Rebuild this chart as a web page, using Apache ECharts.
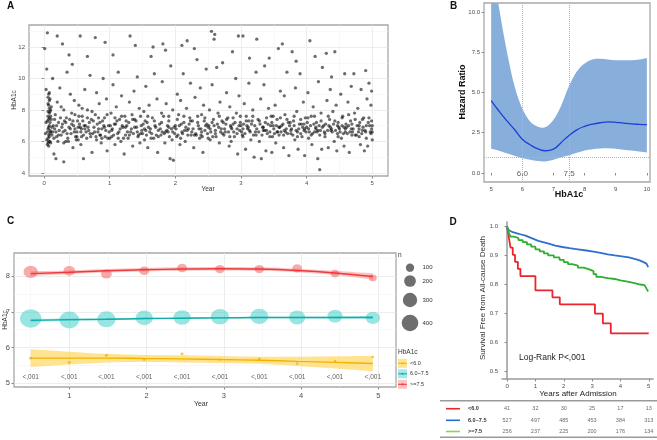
<!DOCTYPE html>
<html><head><meta charset="utf-8">
<script src="https://cdn.jsdelivr.net/npm/echarts@6/dist/echarts.min.js"></script>
<style>html,body{margin:0;padding:0;background:#fff}#c{width:657px;height:440px}</style>
</head><body><div id="c"></div>
<script>
// ---------- Panel A: HbA1c measurements over time ----------
const A_points = [
[0.02,6.5],[0.03,7.2],[0.04,6.1],[0.05,5.8],[0.06,6.8],[0.06,7.6],[0.07,8.3],[0.07,9.0],[0.08,6.3],[0.08,7.0],[0.09,7.9],[0.09,8.7],[0.1,6.6],[0.1,5.9],[0.11,7.4],[0.12,6.9],[0.13,10.0],[0.15,6.2],[0.17,7.7],[0.18,6.6],[0.2,8.5],[0.21,6.0],[0.22,7.2],[0.24,9.4],[0.01,11.9],[0.05,12.9],[0.04,10.6],[0.15,5.2],[0.18,4.9],[0.2,12.7],[0.03,9.3],[0.07,5.7],[0.12,6.4],[0.23,6.7],[0.1,8.0],
[0.26,6.4],[0.28,7.1],[0.3,5.9],[0.3,8.0],[0.32,6.7],[0.34,7.5],[0.35,10.4],[0.36,6.2],[0.38,6.9],[0.4,9.0],[0.41,6.5],[0.42,7.8],[0.44,5.6],[0.45,7.0],[0.46,8.6],[0.48,6.3],[0.3,4.7],[0.28,12.2],[0.38,11.5],[0.33,6.0],[0.47,6.8],[0.43,10.9],
[0.5,6.6],[0.51,7.3],[0.52,6.1],[0.53,8.3],[0.55,6.9],[0.56,5.8],[0.58,7.6],[0.6,6.4],[0.62,9.3],[0.63,7.0],[0.65,6.2],[0.66,8.0],[0.68,6.7],[0.7,10.2],[0.72,7.4],[0.73,5.3],[0.55,12.7],[0.6,4.9],[0.66,11.4],[0.74,6.5],[0.57,6.8],
[0.76,6.9],[0.78,7.7],[0.8,6.1],[0.8,9.1],[0.82,6.6],[0.84,8.4],[0.85,7.2],[0.87,5.9],[0.88,6.8],[0.9,10.0],[0.92,7.5],[0.93,6.3],[0.95,8.7],[0.96,5.4],[0.98,7.0],[0.78,12.6],[0.93,12.3],[0.86,6.4],[0.99,6.6],
[1.0,6.2],[1.02,7.8],[1.03,6.7],[1.05,9.6],[1.07,7.1],[1.08,5.8],[1.1,8.2],[1.12,6.5],[1.13,10.4],[1.15,7.4],[1.17,6.0],[1.18,8.9],[1.2,6.9],[1.22,5.2],[1.23,7.6],[1.05,11.5],[1.24,6.4],
[1.26,7.0],[1.28,6.2],[1.3,8.5],[1.31,12.7],[1.32,6.6],[1.34,7.7],[1.35,5.7],[1.37,9.2],[1.38,6.9],[1.4,7.3],[1.42,10.1],[1.43,6.3],[1.45,8.1],[1.46,5.9],[1.48,7.0],[1.39,12.1],[1.33,6.8],
[1.5,6.5],[1.52,7.9],[1.53,6.1],[1.55,9.5],[1.57,7.2],[1.58,5.6],[1.6,8.3],[1.62,6.8],[1.63,11.4],[1.65,7.5],[1.67,6.2],[1.68,10.3],[1.7,6.9],[1.72,8.7],[1.73,5.3],[1.66,12.0],[1.55,6.7],
[1.76,7.1],[1.78,6.4],[1.8,9.8],[1.81,12.2],[1.82,7.6],[1.84,5.9],[1.86,8.4],[1.87,6.7],[1.9,7.3],[1.92,4.9],[1.93,10.8],[1.95,6.1],[1.96,8.0],[1.98,6.9],[1.85,11.8],[1.97,4.8],[1.89,6.6],
[2.0,7.0],[2.02,6.3],[2.03,9.0],[2.05,7.7],[2.07,5.8],[2.08,8.6],[2.1,6.6],[2.12,10.3],[2.13,7.2],[2.15,6.0],[2.17,8.1],[2.18,12.4],[2.2,6.8],[2.22,7.5],[2.23,9.7],[2.1,12.1],[2.24,6.4],
[2.26,7.3],[2.28,5.6],[2.3,8.8],[2.31,6.5],[2.33,11.2],[2.35,7.0],[2.37,6.2],[2.38,9.4],[2.4,7.7],[2.42,5.3],[2.43,8.3],[2.45,6.7],[2.47,10.6],[2.48,7.1],[2.29,11.9],[2.39,6.4],
[2.5,6.9],[2.52,8.0],[2.53,6.1],[2.55,13.0],[2.56,9.6],[2.58,7.4],[2.6,12.8],[2.61,6.5],[2.63,10.7],[2.65,7.8],[2.67,5.9],[2.68,8.5],[2.7,6.8],[2.72,11.0],[2.73,7.2],[2.59,12.5],[2.57,6.3],
[2.76,6.6],[2.78,9.1],[2.8,7.5],[2.82,5.7],[2.83,8.2],[2.85,6.9],[2.87,11.7],[2.88,7.1],[2.9,6.3],[2.92,10.0],[2.93,7.8],[2.95,5.2],[2.97,8.9],[2.98,6.7],[2.96,12.7],[2.85,6.0],
[3.0,7.0],[3.02,6.4],[3.03,12.7],[3.05,8.4],[3.07,5.5],[3.08,7.6],[3.1,6.8],[3.12,9.7],[3.13,11.3],[3.15,6.1],[3.17,7.3],[3.18,8.0],[3.2,5.0],[3.22,6.6],[3.23,10.4],[3.24,12.5],[3.11,6.9],
[3.26,7.4],[3.28,6.0],[3.3,8.7],[3.31,4.9],[3.33,6.9],[3.35,9.6],[3.37,7.2],[3.38,5.4],[3.4,6.5],[3.42,8.1],[3.43,11.3],[3.45,7.0],[3.47,5.3],[3.48,6.3],[3.36,10.8],[3.46,7.6],
[3.5,6.8],[3.52,8.3],[3.53,5.9],[3.55,7.4],[3.57,11.9],[3.58,6.4],[3.6,9.2],[3.62,7.0],[3.63,12.2],[3.65,5.6],[3.67,7.7],[3.68,6.6],[3.7,10.4],[3.72,7.2],[3.73,5.1],[3.66,8.9],[3.58,6.9],
[3.76,6.5],[3.78,11.7],[3.8,7.3],[3.82,6.1],[3.83,9.4],[3.85,7.9],[3.87,5.5],[3.88,6.8],[3.9,10.3],[3.92,7.1],[3.93,6.3],[3.95,8.5],[3.97,5.1],[3.98,7.5],[3.84,11.1],[3.96,6.7],
[4.0,6.9],[4.02,9.1],[4.03,6.2],[4.05,12.4],[4.07,7.6],[4.08,5.8],[4.1,8.2],[4.12,6.6],[4.13,11.4],[4.15,7.2],[4.17,4.9],[4.18,9.8],[4.2,6.4],[4.2,4.2],[4.22,7.8],[4.23,5.5],[4.24,10.7],[4.14,6.9],
[4.26,7.0],[4.28,6.3],[4.3,11.6],[4.31,8.6],[4.33,5.6],[4.35,7.4],[4.37,6.7],[4.38,10.1],[4.4,7.9],[4.42,6.0],[4.43,11.7],[4.45,8.3],[4.47,6.5],[4.48,7.2],[4.36,9.3],[4.46,5.4],
[4.5,6.8],[4.52,9.0],[4.53,6.2],[4.55,7.6],[4.57,5.7],[4.58,10.3],[4.6,7.1],[4.62,6.5],[4.63,8.5],[4.65,5.3],[4.67,7.3],[4.68,9.5],[4.7,6.6],[4.72,10.3],[4.73,7.8],[4.61,6.9],
[4.76,6.4],[4.78,8.1],[4.8,7.0],[4.82,5.8],[4.83,9.3],[4.85,6.7],[4.87,7.5],[4.88,5.4],[4.9,10.5],[4.91,6.2],[4.92,8.7],[4.94,7.2],[4.95,9.7],[4.97,6.6],[4.98,8.3],[5.0,7.0],[5.0,6.1],[4.99,9.2],[4.93,5.7],
[0.06,6.2],[0.07,6.9],[0.08,7.5],[0.09,6.0],[0.05,6.6],[0.08,8.1],[0.06,8.8],[0.09,7.2],[0.14,7.0],[0.19,6.3],[0.25,7.5],[0.29,6.6],[0.33,7.2],[0.37,6.0],[0.4,6.8],[0.44,7.3],[0.49,6.1],[0.52,6.9],[0.54,7.1],[0.57,6.3],[0.61,7.0],[0.64,6.6],[0.69,7.2],[0.71,6.3],[0.77,6.6],[0.81,7.1],[0.85,6.4],[0.89,7.3],[0.94,6.7],[0.97,6.2],
[1.01,7.0],[1.06,6.4],[1.09,7.1],[1.14,6.6],[1.19,7.0],[1.21,6.2],[1.27,6.6],[1.29,7.2],[1.36,6.5],[1.41,6.9],[1.44,6.4],[1.49,6.7],[1.51,7.1],[1.56,6.4],[1.59,6.9],[1.64,6.5],[1.69,7.0],[1.71,6.4],[1.77,6.8],[1.79,7.2],[1.83,6.5],[1.88,7.0],[1.91,6.3],[1.94,6.8],[1.99,6.5],
[2.01,6.8],[2.04,6.4],[2.09,7.1],[2.11,6.5],[2.16,6.9],[2.19,6.4],[2.21,7.1],[2.27,6.8],[2.32,6.4],[2.34,7.2],[2.39,6.8],[2.41,6.3],[2.46,7.0],[2.49,6.5],[2.51,7.0],[2.54,6.6],[2.59,7.0],[2.62,6.3],[2.66,6.9],[2.69,6.6],[2.71,7.3],[2.74,6.4],[2.77,7.1],[2.81,6.6],[2.84,7.0],[2.89,6.6],[2.91,7.2],[2.94,6.5],[2.99,7.2],
[3.01,6.6],[3.04,7.1],[3.06,6.5],[3.09,7.0],[3.14,6.6],[3.16,7.1],[3.19,6.4],[3.21,7.0],[3.27,6.6],[3.29,7.1],[3.32,6.4],[3.34,6.9],[3.39,6.7],[3.41,7.1],[3.44,6.6],[3.49,7.0],[3.51,6.5],[3.54,7.0],[3.56,6.6],[3.61,6.6],[3.64,7.1],[3.69,6.8],[3.71,6.5],[3.74,7.0],[3.77,6.8],[3.79,6.4],[3.81,7.0],[3.86,6.6],[3.89,7.1],[3.91,6.5],[3.94,6.9],[3.99,6.6],
[4.01,7.2],[4.04,6.6],[4.06,7.0],[4.09,6.5],[4.11,7.1],[4.16,6.6],[4.19,7.0],[4.21,6.7],[4.27,6.6],[4.29,7.1],[4.32,6.7],[4.34,7.0],[4.39,6.6],[4.41,7.1],[4.44,6.7],[4.49,6.9],[4.51,6.6],[4.54,7.0],[4.56,6.5],[4.59,6.8],[4.64,7.0],[4.66,6.6],[4.69,7.1],[4.71,6.8],[4.74,6.4],[4.77,7.0],[4.79,6.6],[4.81,7.2],[4.84,6.5],[4.86,6.9],[4.89,6.7],[4.96,7.0],[4.99,6.8],[5.0,6.6],
[0.06,7.9],[0.07,6.4],[0.08,8.6],[0.09,6.7],[0.1,7.6],[0.16,6.8],[0.27,6.9],[0.39,7.4],[0.46,6.6],[0.59,7.3],[0.67,6.9],[0.75,7.3],[0.83,6.8],[0.91,7.0],[1.04,6.8],[1.11,7.3],[1.16,6.8],[1.25,7.3],[1.38,7.4],[1.47,6.5],[1.54,7.3],[1.61,6.6],[1.74,6.7],[1.8,6.6],[1.9,6.9],
[2.06,7.0],[2.14,6.7],[2.25,6.6],[2.36,6.8],[2.44,7.3],[2.53,6.8],[2.64,7.1],[2.75,6.8],[2.86,6.8],[2.97,7.0],[3.03,6.8],[3.12,7.3],[3.24,6.8],[3.36,6.7],[3.47,7.2],[3.59,6.9],[3.66,6.7],[3.75,7.2],[3.84,6.7],[3.96,7.1],[4.03,6.8],[4.14,6.8],[4.24,6.9],[4.36,6.9],[4.47,7.0],[4.57,6.9],[4.68,6.8],[4.8,6.8],[4.91,7.0],[4.98,6.5],
[0.05,7.3],[0.06,8.4],[0.07,6.0],[0.08,7.8],[0.09,6.5],[0.07,7.4],[0.08,9.1],[0.06,5.9],[0.11,8.2],[0.13,6.6],[0.16,7.4],[0.19,7.0],[0.22,6.4],[0.26,8.2],[0.31,7.3],[0.35,6.5],[0.42,7.1],[0.47,7.7],[0.5,6.3],[0.53,7.6],[0.56,6.6],[0.58,8.1],[0.62,6.8],[0.66,7.5],[0.7,6.5],[0.73,7.9],[0.79,6.3],[0.83,7.5],[0.88,6.2],[0.92,6.9],[0.96,7.7],
[1.03,6.3],[1.08,7.5],[1.13,6.2],[1.18,7.6],[1.24,6.9],[1.3,6.4],[1.35,7.4],[1.42,6.6],[1.47,7.6],[1.53,6.8],[1.58,7.6],[1.63,6.2],[1.68,7.3],[1.74,6.3],[1.79,7.8],[1.85,6.6],[1.9,7.6],[1.96,6.6],
[2.03,7.4],[2.08,6.2],[2.13,7.6],[2.18,6.7],[2.23,7.3],[2.29,6.4],[2.34,7.6],[2.4,6.6],[2.45,7.5],[2.5,6.2],[2.56,7.2],[2.61,6.7],[2.67,7.6],[2.72,6.5],[2.78,7.4],[2.83,6.3],[2.88,7.5],[2.94,6.8],[2.99,7.6],
[3.03,6.3],[3.08,7.3],[3.13,6.7],[3.18,7.6],[3.23,6.4],[3.28,7.3],[3.34,6.7],[3.39,7.5],[3.44,6.3],[3.49,7.6],[3.55,6.6],[3.6,7.5],[3.65,6.4],[3.7,7.4],[3.76,6.7],[3.81,7.6],[3.86,6.3],[3.91,7.4],[3.97,6.8],
[4.02,7.5],[4.07,6.4],[4.12,7.6],[4.17,6.7],[4.22,7.3],[4.28,6.5],[4.33,7.6],[4.38,6.8],[4.43,7.3],[4.48,6.3],[4.54,7.5],[4.59,6.6],[4.64,7.7],[4.69,6.4],[4.74,7.4],[4.8,6.3],[4.85,7.4],[4.9,6.6],[4.95,7.5],[4.99,7.3]
];
const A_xticks = [0,1,2,3,4,5];
const A_yticks = [4,6,8,10,12];

// ---------- Panel B: spline hazard ratio ----------
const B_x  = [5,5.25,5.5,5.75,6,6.25,6.5,6.75,7,7.25,7.5,7.75,8,8.25,8.5,8.75,9,9.25,9.5,9.75,10];
const B_hr = [4.5,3.85,3.25,2.7,2.1,1.75,1.5,1.38,1.48,1.9,2.33,2.68,2.9,3.03,3.12,3.17,3.15,3.1,3.05,3.02,3.0];
const B_lo = [1.5,1.38,1.22,1.07,0.92,0.82,0.74,0.72,0.82,0.98,1.1,1.25,1.4,1.48,1.52,1.53,1.5,1.45,1.4,1.33,1.28];
const B_hi = [13.5,10.3,7.6,5.4,4.0,3.2,2.88,2.85,3.3,4.2,5.4,6.3,6.8,7.05,7.1,7.05,7.0,7.0,7.0,7.05,7.15];
const B_cut = [6.0, 7.5];
const B_xticks = [5,6,7,8,9,10];
const B_yticks = [0,2.5,5,7.5,10];

// ---------- Panel C: HbA1c by group over time ----------
const C_x = [0.5,1,1.48,1.97,2.46,2.95,3.46,3.95,4.44,4.93];
const C_groups = ['<6.0','6.0~7.5','>=7.5'];
const C_yel_fit = [5.70,5.70,5.70,5.69,5.68,5.66,5.64,5.61,5.58,5.55];
const C_yel_lo  = [5.45,5.52,5.58,5.59,5.58,5.56,5.54,5.48,5.41,5.33];
const C_yel_hi  = [5.95,5.88,5.82,5.79,5.78,5.76,5.74,5.74,5.75,5.77];
const C_yel_y   = [5.70,5.58,5.78,5.66,5.82,5.66,5.68,5.55,5.62,5.73];
const C_yel_n   = [14,13,13,12,12,11,11,10,10,9];
const C_cya_fit = [6.76,6.78,6.79,6.81,6.82,6.83,6.84,6.84,6.84,6.84];
const C_cya_lo  = [6.72,6.75,6.77,6.79,6.80,6.81,6.82,6.82,6.81,6.80];
const C_cya_hi  = [6.80,6.81,6.82,6.83,6.84,6.85,6.86,6.86,6.87,6.88];
const C_cya_y   = [6.81,6.77,6.79,6.83,6.84,6.86,6.87,6.84,6.88,6.83];
const C_cya_n   = [581,486,434,372,372,405,405,327,285,257];
const C_red_fit = [8.07,8.11,8.15,8.18,8.20,8.21,8.20,8.16,8.09,7.99];
const C_red_lo  = [8.00,8.06,8.10,8.13,8.15,8.16,8.15,8.11,8.03,7.90];
const C_red_hi  = [8.14,8.16,8.20,8.23,8.25,8.26,8.25,8.21,8.15,8.08];
const C_red_y   = [8.12,8.15,8.06,8.15,8.23,8.20,8.20,8.22,8.07,7.95];
const C_red_n   = [257,166,145,126,126,118,118,118,100,77];
const C_pvals = ['<,001','<,001','<,001','<,001','<,001','<,001','<,001','<,001','<,001','<,001'];
const C_size_breaks = [100,200,300,400];
const C_xticks = [1,2,3,4,5];
const C_yticks = [5,6,7,8];

// ---------- Panel D: Kaplan-Meier ----------
const D_red  = [[0,1],[0.04,0.976],[0.08,0.951],[0.12,0.927],[0.2,0.902],[0.28,0.878],[0.38,0.854],[0.47,0.829],[1.0,0.805],[1.0,0.78],[1.6,0.756],[1.86,0.732],[3.1,0.70],[3.38,0.666],[3.66,0.632],[5.0,0.632]];
const D_blue = [[0,1],[0.02,0.99],[0.05,0.985],[0.1,0.98],[0.2,0.976],[0.35,0.972],[0.5,0.968],[0.65,0.962],[0.8,0.956],[0.95,0.95],[1.1,0.945],[1.3,0.94],[1.5,0.934],[1.7,0.929],[1.95,0.925],[2.2,0.921],[2.5,0.917],[2.8,0.913],[3.05,0.909],[3.3,0.904],[3.55,0.9],[3.8,0.897],[4.05,0.893],[4.3,0.888],[4.5,0.884],[4.65,0.878],[4.8,0.872],[4.92,0.866],[4.98,0.86],[5.0,0.86]];
const D_green= [[0,1],[0.02,0.99],[0.05,0.98],[0.08,0.972],[0.12,0.965],[0.25,0.96],[0.4,0.953],[0.55,0.946],[0.7,0.938],[0.85,0.93],[1.0,0.921],[1.15,0.914],[1.3,0.907],[1.45,0.9],[1.65,0.893],[1.85,0.885],[2.0,0.877],[2.15,0.87],[2.3,0.865],[2.5,0.858],[2.7,0.852],[2.9,0.846],[3.05,0.836],[3.15,0.826],[3.3,0.822],[3.55,0.819],[3.8,0.814],[4.0,0.81],[4.25,0.805],[4.5,0.8],[4.7,0.798],[4.85,0.795],[4.92,0.786],[4.98,0.776],[5.0,0.776]];
const D_xticks = [0,1,2,3,4,5];
const D_yticks = [0.5,0.6,0.7,0.8,0.9,1.0];
const D_logrank = 'Log-Rank P<,001';
const T_times = [0,1,2,3,4,5];
const T_groups = ['<6.0','6.0~7.5','>=7.5'];
const T_risk = [[41,32,30,25,17,13],[527,497,485,453,384,313],[256,237,225,200,176,134]];

// ---------- styling ----------
const FF = '"Liberation Sans", Arial, sans-serif';
const LBL = {color:'#4d4d4d', fontFamily:FF};
const GRIDC = '#e9e9e9', MINORC = '#f4f4f4', FRAME = '#a8a8a8';
const sizeOf = n => 0.83*Math.sqrt(n);
const symOf = v => { const d = sizeOf(v[2]); return [d*1.08, d*0.92]; };
const pts = (xs, ys) => xs.map((x,i)=>[x, ys[i]]);

function valAxis(grid, min, max, ticks, o) {
  o = o || {};
  return {
    type:'value', gridIndex:grid, min, max,
    axisLine:{show:!!o.line, lineStyle:{color:'#9a9a9a', width:1.5}},
    axisTick:{show:o.tick!==false, length:2.5, lineStyle:{color:'#8a8a8a'}, customValues:ticks},
    axisLabel:{show:o.label!==false, customValues:ticks, fontSize:o.fs||6, margin:o.margin||4, formatter:o.fmt, ...LBL},
    splitLine:{show:!!o.split, lineStyle:{color:o.splitColor||GRIDC, width:o.splitW||0.8}}
  };
}
function minorAxis(grid, min, max, ticks) {
  return {type:'value', gridIndex:grid, min, max,
    axisLine:{show:false}, axisTick:{show:false, customValues:ticks},
    axisLabel:{show:false, customValues:ticks},
    splitLine:{show:true, lineStyle:{color:MINORC, width:0.6}}};
}

// smooth path through pixel points (Catmull-Rom -> cubic Bezier)
function crPath(p, move) {
  let d = (move ? 'M' : 'L') + p[0][0] + ',' + p[0][1];
  for (let i = 0; i < p.length - 1; i++) {
    const p0 = p[i-1] || p[i], p1 = p[i], p2 = p[i+1], p3 = p[i+2] || p[i+1];
    const c1 = [p1[0] + (p2[0]-p0[0])/6, p1[1] + (p2[1]-p0[1])/6];
    const c2 = [p2[0] - (p3[0]-p1[0])/6, p2[1] - (p3[1]-p1[1])/6];
    d += 'C' + c1[0] + ',' + c1[1] + ' ' + c2[0] + ',' + c2[1] + ' ' + p2[0] + ',' + p2[1];
  }
  return d;
}
function bandSeries(xi, yi, xs, lo, hi, color) {
  return {type:'custom', xAxisIndex:xi, yAxisIndex:yi, silent:true, z:1,
    data: xs.map((x,i)=>[x, lo[i], hi[i]]),
    encode:{x:0, y:[1,2]},
    renderItem:(params, api)=>{
      if (params.dataIndex !== 0) return;
      const up = xs.map((x,i)=>api.coord([x,hi[i]]));
      const dn = xs.map((x,i)=>api.coord([x,lo[i]])).reverse();
      const cs = params.coordSys;
      return {type:'path', shape:{pathData: crPath(up,true) + crPath(dn,false) + 'Z'},
        style:{fill:color, stroke:null},
        clipPath:{type:'rect', shape:{x:cs.x, y:cs.y, width:cs.width, height:cs.height}}};
    }};
}

const grids = [
  {left:29, top:25, width:359, height:151, show:true, borderColor:FRAME, borderWidth:1.3, backgroundColor:'transparent'},
  {left:484, top:3, width:166, height:179, show:true, borderColor:FRAME, borderWidth:1.3, backgroundColor:'transparent'},
  {left:14, top:253, width:382, height:134, show:true, borderColor:FRAME, borderWidth:1.3, backgroundColor:'transparent'},
  {left:502, top:222, width:151, height:157},
  {left:502, top:403, width:151, height:34}
];
const xAxes = [
  valAxis(0,-0.23,5.24,A_xticks,{split:true}),
  minorAxis(0,-0.23,5.24,[0.5,1.5,2.5,3.5,4.5]),
  valAxis(1,4.77,10.1,B_xticks,{}),
  valAxis(2,0.284,5.23,C_xticks,{split:true, fs:7.5, margin:5}),
  minorAxis(2,0.284,5.23,[0.5,1.5,2.5,3.5,4.5]),
  valAxis(3,-0.18,5.15,D_xticks,{line:true, margin:4}),
  {type:'value', gridIndex:4, min:-0.18, max:5.15, show:false}
];
const yAxes = [
  valAxis(0,3.8,13.4,A_yticks,{split:true}),
  minorAxis(0,3.8,13.4,[5,7,9,11,13]),
  valAxis(1,-0.56,10.56,B_yticks,{fmt:v=>v.toFixed(1)}),
  valAxis(2,4.89,8.65,C_yticks,{split:true, fs:7.5}),
  minorAxis(2,4.89,8.65,[5.5,6.5,7.5,8.5]),
  valAxis(3,0.475,1.015,D_yticks,{line:true, fmt:v=>v.toFixed(1)}),
  {type:'value', gridIndex:4, min:0, max:3, show:false}
];

const series = [];
// A
series.push({type:'scatter', xAxisIndex:0, yAxisIndex:0, data:A_points, symbolSize:3.3, silent:true,
  itemStyle:{color:'rgba(0,0,0,0.72)'}});
// B
series.push(bandSeries(2, 2, B_x, B_lo, B_hi, '#88afdb'));
series.push({type:'line', xAxisIndex:2, yAxisIndex:2, data:pts(B_x,B_hr), symbol:'none', smooth:true, silent:true, z:5,
  lineStyle:{color:'#1d3fd3', width:1.3},
  markLine:{symbol:'none', silent:true, label:{show:false}, lineStyle:{type:'dotted', color:'#b5b5b5', width:1},
    data:[{xAxis:B_cut[0]},{xAxis:B_cut[1]},{yAxis:1}]}});
series.push({type:'scatter', xAxisIndex:2, yAxisIndex:2, data:B_cut.map(x=>[x,-0.06]), symbolSize:0, silent:true, z:6,
  label:{show:true, position:'inside', formatter:p=>p.value[0].toFixed(1), fontSize:8, color:'#333', fontFamily:FF}});
// C
const Cgrp = [
  {fit:C_yel_fit, lo:C_yel_lo, hi:C_yel_hi, y:C_yel_y, n:C_yel_n, line:'#f0b400', band:'rgba(255,200,35,0.5)', pt:'rgba(236,180,0,0.9)'},
  {fit:C_cya_fit, lo:C_cya_lo, hi:C_cya_hi, y:C_cya_y, n:C_cya_n, line:'#13aba7', band:'rgba(0,191,196,0.35)', pt:'rgba(40,200,195,0.6)'},
  {fit:C_red_fit, lo:C_red_lo, hi:C_red_hi, y:C_red_y, n:C_red_n, line:'#ee3a3c', band:'rgba(248,110,105,0.4)', pt:'rgba(242,85,85,0.62)'}
];
Cgrp.forEach((g)=>{
  series.push(bandSeries(3, 3, C_x, g.lo, g.hi, g.band));
  series.push({type:'scatter', xAxisIndex:3, yAxisIndex:3, data:C_x.map((x,i)=>[x,g.y[i],g.n[i]]), symbolSize:symOf, silent:true, itemStyle:{color:g.pt}, z:3});
  series.push({type:'line', xAxisIndex:3, yAxisIndex:3, data:pts(C_x,g.fit), symbol:'none', smooth:0.4, silent:true, lineStyle:{color:g.line, width:1.4}, z:4});
});
series.push({type:'scatter', xAxisIndex:3, yAxisIndex:3, data:C_x.map((x,i)=>[x,5.17,C_pvals[i]]), symbolSize:0, silent:true,
  label:{show:true, position:'inside', formatter:p=>p.value[2], fontSize:6.5, color:'#333', fontFamily:FF}});
// D
const Dcol = ['#e8262c','#2f6fd0','#2fae2f'];
[D_red, D_blue, D_green].forEach((d,k)=>{
  series.push({type:'line', xAxisIndex:5, yAxisIndex:5, data:d, step:'end', symbol:'none', silent:true, lineStyle:{color:Dcol[k], width:1.8}});
});
// risk table
const Tcol = ['#e8262c','#1f6fd6','#8cd44c'];
T_risk.forEach((row,r)=>{
  series.push({type:'scatter', xAxisIndex:6, yAxisIndex:6, data:T_times.map((t,i)=>[t, 2.5-r, row[i]]), symbolSize:0, silent:true,
    label:{show:true, position:'inside', formatter:p=>String(p.value[2]), fontSize:5.5, color:'#444', fontFamily:FF}});
});

// ---------- annotations ----------
function txt(t,x,y,size,o){ o=o||{}; return {type:'text', x, y, rotation:o.rot||0, z:100, silent:true,
  style:{text:t, fontSize:size, fontFamily:FF, fontWeight:o.bold?'bold':'normal', fill:o.color||'#333', align:o.align||'center', verticalAlign:'middle'}}; }
const R90 = Math.PI/2;
const graphic = [
  txt('A',10.5,6.5,10,{bold:true,color:'#111'}),
  txt('B',453.5,6,10,{bold:true,color:'#111'}),
  txt('C',10.5,221.5,10,{bold:true,color:'#111'}),
  txt('D',453,222.5,10,{bold:true,color:'#111'}),
  txt('Year',208,189,6.5),
  txt('HbA1c',14,100,6.5,{rot:R90}),
  txt('Hazard Ratio',463,92,9,{bold:true,rot:R90,color:'#111'}),
  txt('HbA1c',569,195,9,{bold:true,color:'#111'}),
  txt('Year',201,404,7),
  txt('HbA1c',5,320,6.5,{rot:R90}),
  txt('n',398,255,6.5,{align:'left'}),
  txt('HbA1c',398,352.5,6.5,{align:'left'}),
  txt('Survival Free from All-cause Death',483,298,8,{rot:R90}),
  txt('Years after Admission',578,394,8,{color:'#222'}),
  txt(D_logrank,519,358,8.5,{align:'left',color:'#222'}),
  {type:'line', shape:{x1:440,y1:400.7,x2:657,y2:400.7}, style:{stroke:'#9a9a9a', lineWidth:1.5}, silent:true},
  {type:'line', shape:{x1:440,y1:437.3,x2:657,y2:437.3}, style:{stroke:'#9a9a9a', lineWidth:1.5}, silent:true}
];
const legYs = [267.7,281,300,323];
C_size_breaks.forEach((n,i)=>{
  graphic.push({type:'circle', shape:{cx:410, cy:legYs[i], r:sizeOf(n)/2}, style:{fill:'#6e6e6e'}, silent:true});
  graphic.push(txt(String(n),422.5,legYs[i],6,{align:'left'}));
});
const keyYs = [363.3,373.8,384.3];
C_groups.forEach((g,i)=>{
  graphic.push({type:'rect', shape:{x:398, y:keyYs[i]-4.5, width:9, height:9}, style:{fill:Cgrp[i].band}, silent:true});
  graphic.push({type:'line', shape:{x1:398,y1:keyYs[i],x2:407,y2:keyYs[i]}, style:{stroke:Cgrp[i].line, lineWidth:1}, silent:true});
  graphic.push({type:'circle', shape:{cx:402.5, cy:keyYs[i], r:1}, style:{fill:Cgrp[i].line}, silent:true});
  graphic.push(txt(g,410,keyYs[i],5.5,{align:'left'}));
});
const rowYs = [408.7,420.3,431.5];
T_groups.forEach((g,i)=>{
  graphic.push({type:'line', shape:{x1:446,y1:rowYs[i],x2:460,y2:rowYs[i]}, style:{stroke:Tcol[i], lineWidth:1.6}, silent:true});
  graphic.push(txt(g,468,rowYs[i],5.5,{align:'left',bold:true,color:'#333'}));
});

const chart = echarts.init(document.getElementById('c'), null, {renderer:'canvas'});
chart.setOption({animation:false, backgroundColor:'#fff', grid:grids, xAxis:xAxes, yAxis:yAxes, series, graphic});
</script></body></html>
